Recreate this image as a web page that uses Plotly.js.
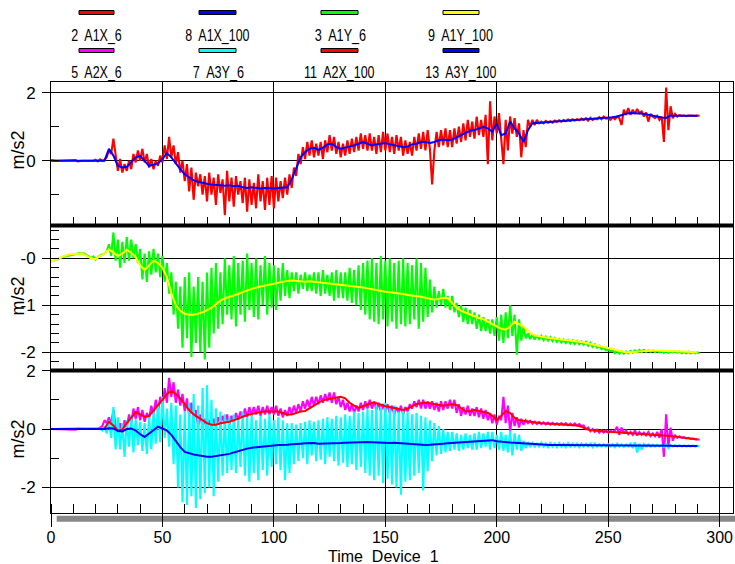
<!DOCTYPE html>
<html><head><meta charset="utf-8">
<script src="https://cdn.plot.ly/plotly-3.0.1.min.js"></script>
<style>html,body{margin:0;padding:0;background:#fff;}#chart{width:735px;height:564px;}</style>
</head><body><div id="chart"></div>
<script>
// ---- Data (time step 1 for raw "_6" channels, step 2 for "_100" channels) ----
const a1x6 = [
0.02,0,0,0,0,0,0,0,0,0,
0,0.02,-0.02,0,0,0,0,0,0,0,
0.03,-0.02,0.04,0,0.02,0.1,0.3,0.2,0.65,0.15,
-0.3,0.05,-0.35,-0.1,-0.3,0.0,-0.25,0.2,-0.05,0.3,
0.0,0.35,-0.05,0.2,-0.2,0.05,-0.25,0.0,-0.15,0.15,
-0.05,0.45,0.05,0.7,0.1,0.45,-0.1,0.25,-0.35,0.0,
-0.6,-0.1,-0.9,-0.2,-1.15,-0.35,-0.75,-0.4,-1.0,-0.45,
-1.2,-0.35,-1.0,-0.5,-1.3,-0.4,-0.95,-0.55,-1.6,-0.3,
-1.2,-0.5,-1.35,-0.45,-1.0,-0.6,-1.25,-0.5,-1.5,-0.55,
-1.3,-0.65,-1.4,-0.4,-1.2,-0.6,-1.45,-0.5,-1.3,-0.45,
-1.4,-0.5,-1.2,-0.6,-1.1,-0.5,-1.0,-0.4,-0.8,-0.2,
-0.45,0.2,-0.1,0.4,0.05,0.55,0.15,0.6,0.1,0.5,
0.15,0.55,0.05,0.6,0.25,0.75,0.3,0.7,0.2,0.55,
0.1,0.5,0.15,0.6,0.2,0.65,0.25,0.7,0.3,0.8,
0.35,0.75,0.3,0.8,0.3,0.7,0.2,0.75,0.25,0.85,
0.3,0.8,0.25,0.7,0.2,0.75,0.3,0.7,0.15,0.6,
0.2,0.55,0.15,0.7,0.3,0.8,0.35,0.85,0.3,0.9,
0.35,-0.7,0.3,0.85,0.4,0.9,0.45,0.95,0.4,0.9,
0.4,0.95,0.5,1.0,0.55,1.1,0.6,1.2,0.7,1.15,
0.65,1.3,0.75,1.2,0.7,1.35,-0.1,1.75,0.6,1.3,
0.8,1.4,0.5,-0.1,1.2,0.3,1.3,0.8,1.25,0.7,
1.1,0.1,0.9,0.4,1.2,1.0,1.2,1.05,1.2,1.1,
1.15,1.1,1.17,1.12,1.16,1.12,1.18,1.14,1.19,1.15,
1.2,1.16,1.21,1.17,1.22,1.18,1.22,1.19,1.24,1.2,
1.25,1.18,1.26,1.2,1.24,1.22,1.28,1.22,1.3,1.24,
1.25,1.2,1.28,1.22,1.3,1.25,1.05,1.5,1.35,1.55,
1.35,1.5,1.38,1.52,1.4,1.45,1.3,1.42,1.15,1.38,
1.3,1.25,1.32,1.2,1.3,0.55,2.15,0.9,1.6,1.25,
1.38,1.3,1.34,1.32,1.33,1.31,1.33,1.32,1.33,1.32,
1.33,1.32];
const a1x100 = [
0,0,0,0,0,0,0,0,0,0,
0,0,0,0.35,0.15,-0.15,-0.2,-0.18,-0.05,0.1,
0.14,0.0,-0.15,-0.12,-0.08,0.05,0.22,0.1,-0.08,-0.25,
-0.4,-0.5,-0.58,-0.62,-0.66,-0.68,-0.7,-0.7,-0.72,-0.74,
-0.72,-0.75,-0.74,-0.78,-0.8,-0.78,-0.8,-0.82,-0.8,-0.82,
-0.82,-0.8,-0.8,-0.78,-0.55,-0.2,0.1,0.25,0.35,0.38,
0.32,0.38,0.48,0.5,0.4,0.35,0.38,0.42,0.45,0.5,
0.55,0.5,0.45,0.48,0.5,0.52,0.48,0.45,0.42,0.4,
0.42,0.48,0.5,0.55,0.55,0.52,0.55,0.6,0.62,0.6,
0.62,0.68,0.75,0.82,0.88,0.9,0.95,1.0,0.95,0.85,
1.1,0.75,0.8,1.15,0.95,0.8,0.55,0.9,1.1,1.12,
1.12,1.13,1.14,1.15,1.16,1.17,1.18,1.19,1.2,1.21,
1.21,1.22,1.23,1.23,1.24,1.26,1.28,1.3,1.35,1.38,
1.4,1.4,1.4,1.38,1.35,1.32,1.3,1.27,1.26,1.33,
1.32,1.32,1.32,1.32,1.32,1.32];
const a1y6 = [
-0.07,-0.05,-0.03,-0.02,0.0,0.02,0.04,0.05,0.06,0.07,
0.09,0.1,0.1,0.11,0.1,0.1,0.06,0.04,0.0,0.04,
-0.03,0.02,0.06,0.08,0.1,0.15,0.3,0.05,0.55,-0.05,
0.4,-0.2,0.35,-0.1,0.45,-0.05,0.4,0.0,0.3,-0.1,
0.2,-0.45,0.1,-0.5,0.15,-0.35,0.2,-0.3,0.1,-0.4,
0.05,-0.5,-0.1,-0.75,-0.3,-1.2,-0.5,-1.5,-0.6,-1.9,
-0.4,-1.7,-0.3,-2.1,-0.6,-1.8,-0.4,-2.0,-0.5,-2.15,
-0.3,-1.9,-0.2,-1.6,-0.1,-1.5,-0.3,-1.4,0.0,-1.2,
-0.15,-1.3,0.05,-1.45,-0.1,-1.2,-0.05,-1.35,0.1,-1.1,
-0.1,-1.25,0.0,-1.3,-0.15,-1.0,0.05,-1.2,-0.1,-1.05,
-0.15,-1.1,-0.2,-0.9,-0.1,-0.8,-0.25,-0.85,-0.3,-0.7,
-0.3,-0.75,-0.35,-0.65,-0.3,-0.7,-0.35,-0.7,-0.3,-0.75,
-0.3,-0.8,-0.25,-0.75,-0.35,-0.8,-0.3,-0.9,-0.25,-0.85,
-0.3,-0.85,-0.3,-0.9,-0.2,-0.95,-0.25,-1.0,-0.15,-1.1,
-0.1,-1.2,-0.05,-1.3,0.0,-1.35,-0.1,-1.4,0.05,-1.3,
-0.05,-1.45,0.0,-1.35,-0.1,-1.5,-0.05,-1.4,0.0,-1.45,
-0.1,-1.4,-0.15,-1.3,0.0,-1.5,-0.1,-1.35,-0.2,-1.25,
-0.45,-1.15,-0.6,-1.05,-0.7,-1.0,-0.65,-1.05,-0.8,-1.1,
-0.8,-1.15,-0.95,-1.25,-1.0,-1.35,-1.05,-1.4,-1.1,-1.4,
-1.15,-1.5,-1.2,-1.55,-1.25,-1.55,-1.3,-1.6,-1.3,-1.65,
-1.25,-1.75,-1.2,-1.8,-1.15,-1.7,-1.0,-1.65,-1.2,-2.05,
-1.3,-1.75,-1.45,-1.7,-1.6,-1.72,-1.62,-1.73,-1.64,-1.72,
-1.65,-1.74,-1.67,-1.75,-1.68,-1.76,-1.7,-1.78,-1.72,-1.79,
-1.73,-1.8,-1.74,-1.81,-1.75,-1.82,-1.76,-1.83,-1.77,-1.84,
-1.78,-1.86,-1.8,-1.88,-1.83,-1.9,-1.86,-1.93,-1.9,-1.96,
-1.93,-1.98,-1.96,-2.02,-1.97,-2.03,-1.98,-2.03,-1.98,-2.02,
-1.97,-2.01,-1.96,-2.0,-1.95,-1.99,-1.95,-1.99,-1.96,-1.99,
-1.96,-2.0,-1.97,-2.0,-1.98,-2.01,-1.98,-2.01,-1.98,-2.0,
-1.98,-2.01,-1.98,-2.02,-1.99,-2.02,-1.99,-2.02,-2.0,-2.02,
-2.0,-2.02];
const a1y100 = [
-0.07,-0.03,0.02,0.05,0.08,0.09,0.1,0.1,0.05,0.0,
-0.02,0.05,0.1,0.19,0.12,0.05,0.1,0.18,0.12,0.02,
-0.15,-0.25,-0.15,-0.05,-0.1,-0.2,-0.4,-0.75,-1.0,-1.12,
-1.18,-1.2,-1.2,-1.18,-1.15,-1.1,-1.05,-0.98,-0.9,-0.85,
-0.82,-0.8,-0.76,-0.72,-0.68,-0.65,-0.62,-0.6,-0.57,-0.55,
-0.53,-0.52,-0.5,-0.48,-0.47,-0.48,-0.5,-0.5,-0.49,-0.5,
-0.52,-0.53,-0.54,-0.55,-0.56,-0.57,-0.58,-0.58,-0.6,-0.6,
-0.62,-0.64,-0.66,-0.68,-0.7,-0.71,-0.72,-0.73,-0.75,-0.76,
-0.78,-0.79,-0.8,-0.82,-0.84,-0.86,-0.88,-0.86,-0.84,-0.85,
-0.95,-1.05,-1.12,-1.16,-1.2,-1.24,-1.27,-1.3,-1.35,-1.4,
-1.45,-1.5,-1.52,-1.45,-1.35,-1.4,-1.45,-1.55,-1.62,-1.65,
-1.67,-1.69,-1.7,-1.71,-1.72,-1.73,-1.74,-1.75,-1.76,-1.78,
-1.8,-1.82,-1.84,-1.86,-1.88,-1.9,-1.93,-1.96,-1.98,-2.0,
-2.0,-1.99,-1.98,-1.97,-1.96,-1.96,-1.96,-1.97,-1.97,-1.98,
-1.98,-1.98,-1.99,-1.99,-2.0,-2.0];
const a2x6 = [
0,0,0,0,0,0,0,0,0,0,
0,-0.02,0.01,0,0,0,0,0,0,0,
0.02,0,0.05,0.1,0.3,0.2,0.4,0.15,0.65,0.1,
-0.1,0.2,-0.15,0.3,0.05,0.5,0.2,0.7,0.35,0.75,
0.3,0.65,0.25,0.55,0.35,0.8,0.5,1.0,0.6,1.1,
0.8,1.4,0.9,1.75,1.1,1.6,0.9,1.35,0.8,1.2,
0.6,1.05,0.45,0.9,0.3,0.65,0.1,0.5,0.05,0.35,
0.0,0.3,0.05,0.35,0.1,0.4,0.15,0.45,0.2,0.5,
0.15,0.45,0.25,0.55,0.3,0.6,0.35,0.7,0.4,0.75,
0.45,0.75,0.5,0.8,0.45,0.75,0.5,0.8,0.5,0.75,
0.5,0.8,0.45,0.7,0.4,0.65,0.45,0.75,0.5,0.8,
0.55,0.85,0.6,0.95,0.7,1.0,0.75,1.1,0.8,1.1,
0.85,1.15,0.9,1.2,0.95,1.25,0.9,1.25,0.85,1.1,
0.75,1.0,0.65,0.9,0.6,0.85,0.55,0.8,0.6,0.9,
0.65,0.95,0.7,1.0,0.7,0.95,0.65,0.9,0.6,0.85,
0.6,0.85,0.55,0.8,0.5,0.75,0.55,0.8,0.5,0.75,
0.6,0.85,0.7,0.95,0.75,1.0,0.7,1.0,0.7,0.95,
0.7,0.95,0.65,0.9,0.6,0.95,0.65,0.95,0.7,1.0,
0.7,1.0,0.55,0.85,0.45,0.75,0.5,0.8,0.45,0.7,
0.45,0.75,0.4,0.7,0.35,0.65,0.3,0.55,0.2,0.5,
0.15,0.45,0.3,1.1,0.2,0.8,-0.1,0.55,0.1,0.4,
0.05,0.35,0.15,0.3,0.2,0.28,0.18,0.25,0.17,0.24,
0.17,0.23,0.16,0.22,0.15,0.21,0.15,0.2,0.14,0.2,
0.14,0.2,0.13,0.19,0.13,0.19,0.12,0.17,0.1,0.12,
0.0,0.05,-0.08,0.0,-0.1,-0.02,-0.12,-0.04,-0.12,-0.05,
-0.12,-0.06,-0.1,-0.04,0.08,-0.2,0.05,-0.15,-0.05,-0.18,
-0.1,-0.2,-0.05,-0.22,-0.1,-0.2,-0.12,-0.22,-0.1,-0.24,
-0.15,-0.25,-0.1,-0.3,0.0,-0.95,0.5,-0.6,0.05,-0.4,
-0.2,-0.3,-0.25,-0.3,-0.28,-0.32,-0.3,-0.34,-0.32,-0.35,
-0.35,-0.37];
const a3y6 = [
0,0,0,0,0,0,0,0,0,0,
0,0,0,0,0,0,0,0,0,0,
0,0,0.02,-0.05,0.1,-0.15,0.3,-0.3,0.75,-0.7,
0.4,-0.7,0.2,-0.95,0.3,-0.6,0.45,-0.8,0.35,-0.55,
0.25,-0.75,0.2,-0.85,0.4,-0.7,0.6,-0.5,0.85,-0.45,
1.1,-0.3,0.7,-0.6,0.9,-1.2,0.8,-2.0,0.5,-2.5,
0.6,-2.6,0.9,-2.3,1.2,-2.7,0.8,-2.4,1.4,-2.2,
1.5,-2.0,1.0,-2.3,0.7,-1.8,0.6,-1.6,0.5,-1.5,
0.4,-1.4,0.5,-1.5,0.3,-1.3,0.6,-1.6,0.4,-1.8,
0.5,-1.5,0.3,-1.75,0.45,-1.4,0.35,-1.6,0.5,-1.3,
0.3,-1.2,0.4,-1.4,0.3,-1.75,0.2,-1.5,0.2,-1.2,
0.15,-1.1,0.2,-1.0,0.25,-1.2,0.3,-0.9,0.25,-1.1,
0.3,-1.05,0.35,-1.2,0.4,-0.95,0.35,-1.1,0.45,-1.25,
0.4,-1.15,0.5,-1.3,0.45,-1.2,0.6,-1.4,0.55,-1.3,
0.6,-1.5,0.7,-1.6,0.65,-1.75,0.8,-1.6,0.75,-1.85,
0.9,-1.7,0.7,-1.9,0.8,-2.0,0.6,-2.25,0.7,-1.8,
0.6,-1.75,0.5,-1.6,0.55,-1.5,0.45,-2.1,0.4,-1.45,
0.3,-1.1,0.2,-0.9,0.1,-0.85,0.0,-0.8,-0.1,-0.75,
-0.1,-0.7,-0.15,-0.75,-0.2,-0.7,-0.15,-0.65,-0.2,-0.7,
-0.15,-0.7,-0.1,-0.65,-0.15,-0.6,-0.1,-0.7,-0.1,-0.65,
-0.2,-0.7,-0.1,-0.75,-0.2,-0.8,-0.05,-0.9,-0.15,-0.7,
-0.2,-0.75,-0.4,-0.65,-0.45,-0.62,-0.48,-0.6,-0.5,-0.6,
-0.47,-0.6,-0.5,-0.62,-0.48,-0.6,-0.5,-0.62,-0.48,-0.6,
-0.5,-0.62,-0.48,-0.6,-0.5,-0.6,-0.5,-0.62,-0.49,-0.6,
-0.5,-0.6,-0.5,-0.62,-0.5,-0.6,-0.52,-0.6,-0.52,-0.6,
-0.52,-0.6,-0.52,-0.62,-0.5,-0.6,-0.52,-0.61,-0.53,-0.6,
-0.5,-0.65,-0.45,-0.8,-0.5,-0.7,-0.52,-0.6,-0.53,-0.6,
-0.54,-0.6,-0.54,-0.6,-0.55,-0.62,-0.5,-0.65,-0.55,-0.6,
-0.55,-0.6,-0.55,-0.6,-0.56,-0.6,-0.56,-0.6,-0.56,-0.6,
-0.57,-0.6];
const a2x100 = [
0,0,0,0,0,0,0,0,0,0,
0,0,0.02,0.25,0.12,-0.05,-0.02,0.2,0.4,0.58,
0.5,0.42,0.45,0.65,0.82,1.0,1.2,1.3,1.2,1.05,
0.85,0.65,0.5,0.4,0.3,0.2,0.15,0.15,0.2,0.22,
0.25,0.3,0.35,0.42,0.48,0.52,0.55,0.58,0.6,0.6,
0.62,0.6,0.55,0.5,0.5,0.55,0.6,0.62,0.7,0.8,
0.9,0.98,1.02,1.05,1.08,1.1,1.05,0.9,0.8,0.72,
0.78,0.85,0.9,0.88,0.82,0.78,0.75,0.72,0.68,0.65,
0.7,0.78,0.85,0.88,0.9,0.88,0.85,0.82,0.8,0.82,
0.85,0.82,0.7,0.6,0.62,0.65,0.62,0.58,0.55,0.45,
0.3,0.45,0.62,0.55,0.38,0.3,0.28,0.25,0.22,0.2,
0.2,0.19,0.18,0.18,0.17,0.17,0.16,0.15,0.12,0.08,
0.0,-0.03,-0.05,-0.07,-0.08,-0.09,-0.1,-0.11,-0.12,-0.12,
-0.13,-0.14,-0.15,-0.16,-0.17,-0.18,-0.2,-0.21,-0.22,-0.24,
-0.26,-0.28,-0.3,-0.32,-0.34,-0.36];
const a3y100 = [
0,0,0,0,0,0,0,0,0,0,
0,0,0,0.03,0.02,-0.07,-0.08,0.0,0.02,-0.05,
-0.18,-0.27,-0.15,-0.05,0.08,0.02,-0.05,-0.2,-0.42,-0.62,
-0.78,-0.83,-0.87,-0.9,-0.93,-0.95,-0.95,-0.93,-0.9,-0.88,
-0.85,-0.8,-0.75,-0.7,-0.67,-0.64,-0.62,-0.6,-0.58,-0.57,
-0.56,-0.55,-0.55,-0.54,-0.52,-0.5,-0.5,-0.49,-0.48,-0.48,
-0.5,-0.5,-0.49,-0.5,-0.5,-0.48,-0.47,-0.46,-0.45,-0.44,
-0.44,-0.44,-0.45,-0.46,-0.47,-0.48,-0.48,-0.47,-0.48,-0.5,
-0.52,-0.53,-0.54,-0.55,-0.55,-0.54,-0.52,-0.5,-0.5,-0.49,
-0.48,-0.47,-0.45,-0.44,-0.43,-0.42,-0.41,-0.4,-0.38,-0.38,
-0.42,-0.44,-0.45,-0.46,-0.47,-0.48,-0.5,-0.52,-0.53,-0.54,
-0.54,-0.54,-0.55,-0.55,-0.55,-0.55,-0.55,-0.55,-0.55,-0.55,
-0.55,-0.55,-0.55,-0.56,-0.56,-0.56,-0.56,-0.56,-0.56,-0.56,
-0.57,-0.57,-0.57,-0.57,-0.57,-0.57,-0.57,-0.57,-0.57,-0.57,
-0.58,-0.58,-0.58,-0.58,-0.58,-0.58];

const legendLabels = ['2\u00a0 A1X_6','8\u00a0 A1X_100','3\u00a0 A1Y_6','9\u00a0 A1Y_100',
                      '5\u00a0 A2X_6','7\u00a0 A3Y_6','11\u00a0 A2X_100','13\u00a0 A3Y_100'];
const legendColors = ['#ff0000','#0000ff','#00ff00','#ffff00','#ff00ff','#00ffff','#ff0000','#0000ff'];
const xTickVals = [0,50,100,150,200,250,300];
const xTickText = ['0','50','100','150','200','250','300'];
const topTickVals = [2,0];       const topTickText = ['2','0'];
const midTickVals = [0,-1,-2];   const midTickText = ['-0','-1','-2'];
const botTickVals = [2,0,-2];    const botTickText = ['2','0','-2'];
const xTitle = 'Time\u00a0 Device\u00a0 1';
const yTitle = 'm/s2';

// ---- Geometry helpers (pixel -> paper) ----
const W = 735, H = 564, ML = 51, MR = 2, MT = 82, MB = 51;
const PW = W - ML - MR, PH = H - MT - MB;
const px = p => (p - ML) / PW;
const py = p => (H - MB - p) / PH;
const FONT = 'Liberation Sans, Arial, sans-serif';

function raw(y, xa, ya, name, color) {
  return {type:'scatter', mode:'lines', x0:0, dx:1, y:y, xaxis:xa, yaxis:ya, name:name,
          line:{color:color, width:2.1}, hoverinfo:'skip'};
}
function smooth(y, xa, ya, name, color) {
  return {type:'scatter', mode:'lines', x0:0, dx:2, y:y, xaxis:xa, yaxis:ya, name:name,
          line:{color:color, width:2}, hoverinfo:'skip'};
}
const data = [
  raw(a1x6, 'x3', 'y3', legendLabels[0], legendColors[0]),
  smooth(a1x100, 'x3', 'y3', legendLabels[1], legendColors[1]),
  raw(a1y6, 'x2', 'y2', legendLabels[2], legendColors[2]),
  smooth(a1y100, 'x2', 'y2', legendLabels[3], legendColors[3]),
  raw(a2x6, 'x', 'y', legendLabels[4], legendColors[4]),
  raw(a3y6, 'x', 'y', legendLabels[5], legendColors[5]),
  smooth(a2x100, 'x', 'y', legendLabels[6], legendColors[6]),
  smooth(a3y100, 'x', 'y', legendLabels[7], legendColors[7])
];

const bTop = py(225.5), bMid = py(370.5);
function xAxis(anchor, bottom) {
  return {
    anchor: anchor, range:[0,306], domain:[0,1], matches: bottom ? undefined : 'x',
    tickmode:'array', tickvals:xTickVals, ticktext:xTickText,
    showticklabels: bottom, ticks: bottom ? 'outside' : 'inside', ticklen: bottom ? 13 : 9,
    tickcolor:'#000', tickwidth:1,
    tickfont:{family:FONT, size:16, color:'#000'}, ticklabelstandoff: -3,
    showgrid:true, gridcolor:'#000', gridwidth:1, zeroline:false,
    showline:true, linecolor:'#000', linewidth:1, mirror: anchor === 'y3',
    minor:{tickmode:'linear', tick0:0, dtick:10, ticks:'inside', ticklen:9, tickcolor:'#000', tickwidth:1, showgrid:false}
  };
}
function yAxis(anchor, domain, range, tv, tt, minorDtick) {
  return {
    anchor: anchor, domain: domain, range: range,
    tickmode:'array', tickvals:tv, ticktext:tt,
    ticks:'outside', ticklen:8, tickcolor:'#000', tickwidth:1,
    tickfont:{family:FONT, size:17, color:'#000'}, ticklabelstandoff: 3,
    showgrid:true, gridcolor:'#000', gridwidth:1, zeroline:false,
    showline:true, linecolor:'#000', linewidth:1, mirror:true,
    minor:{tickmode:'linear', tick0:0, dtick:minorDtick, ticks:'inside', ticklen:8, tickcolor:'#000', tickwidth:1, showgrid:false}
  };
}

const shapes = [
  {type:'line', xref:'paper', yref:'paper', x0:0, x1:1, y0:bTop, y1:bTop, line:{color:'#000', width:4}, layer:'above'},
  {type:'line', xref:'paper', yref:'paper', x0:0, x1:1, y0:bMid, y1:bMid, line:{color:'#000', width:4}, layer:'above'},
  {type:'rect', xref:'paper', yref:'paper', x0:px(56.7), x1:px(736), y0:py(515.7), y1:py(521.7),
   fillcolor:'#888888', line:{width:0}, layer:'below'}
];
const annotations = [];
const swX = [[79,114],[199,236],[321,358],[443,479]];
const swY = [[10.5,14.5],[48.5,52.5]];
const txX = [[96.3,217.8,340,460.2],[96.3,218.3,339.7,460.5]];
const txW = [[50.7,64.3,51.4,65],[50.7,51.3,70.7,71]];
const txY = [36, 72.5];
const widthByLabel = {};
legendLabels.forEach((lab, i) => {
  const r = Math.floor(i/4), c = i % 4;
  widthByLabel[lab] = txW[r][c];
  shapes.push({type:'rect', xref:'paper', yref:'paper', x0:px(swX[c][0]), x1:px(swX[c][1]),
    y0:py(swY[r][1]), y1:py(swY[r][0]), fillcolor:legendColors[i], line:{color:'#000', width:1}, layer:'above'});
  annotations.push({xref:'paper', yref:'paper', x:px(txX[r][c]), y:py(txY[r]), text:lab, showarrow:false,
    xanchor:'center', yanchor:'middle', font:{family:FONT, size:16, color:'#000'}});
});
[150, 296, 439].forEach(cy => {
  annotations.push({xref:'paper', yref:'paper', x:px(17.5), y:py(cy), text:yTitle, textangle:-90, showarrow:false,
    xanchor:'center', yanchor:'middle', font:{family:FONT, size:18, color:'#000'}});
});
annotations.push({xref:'paper', yref:'paper', x:px(383), y:py(556), text:xTitle, showarrow:false,
  xanchor:'center', yanchor:'middle', font:{family:FONT, size:16, color:'#000'}});

const layout = {
  width:W, height:H, margin:{l:ML, r:MR, t:MT, b:MB, pad:0},
  paper_bgcolor:'#fff', plot_bgcolor:'#fff', showlegend:false,
  xaxis: xAxis('y', true),
  xaxis2: xAxis('y2', false),
  xaxis3: xAxis('y3', false),
  yaxis: yAxis('x', [0, bMid], [-2.872, 2.002], botTickVals, botTickText, 1),
  yaxis2: yAxis('x2', [bMid, bTop], [-2.387, 0.698], midTickVals, midTickText, 0.2),
  yaxis3: yAxis('x3', [bTop, 1], [-1.906, 2.315], topTickVals, topTickText, 1),
  shapes: shapes, annotations: annotations
};
Plotly.newPlot('chart', data, layout, {staticPlot:true, displayModeBar:false}).then(gd => {
  // legend labels in the reference use a condensed face: compress them to the measured widths
  gd.querySelectorAll('text.annotation-text').forEach(t => {
    const w = widthByLabel[t.textContent];
    if (w) { t.setAttribute('textLength', w); t.setAttribute('lengthAdjust', 'spacingAndGlyphs'); }
  });
});
</script></body></html>
